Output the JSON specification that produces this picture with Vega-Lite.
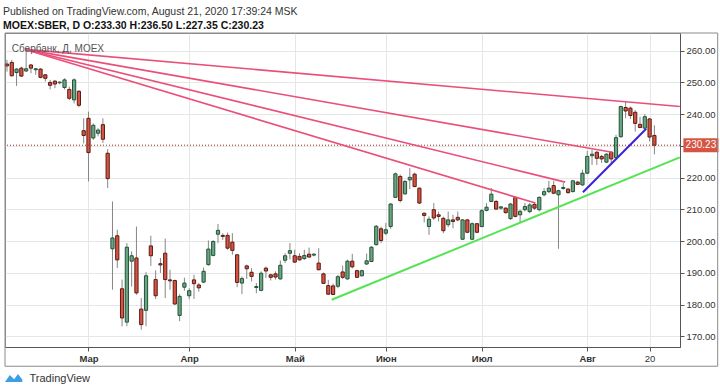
{
"$schema": "https://vega.github.io/schema/vega-lite/v6.json",
"width": 675, "height": 314,
"autosize": "none",
"padding": {"left": 5, "top": 33, "right": 40, "bottom": 41},
"background": "white",
"title": {"text": "Published on TradingView.com, August 21, 2020 17:39:24 MSK", "subtitle": "MOEX:SBER, D  O:233.30 H:236.50 L:227.35 C:230.23", "anchor": "start", "frame": "group", "offset": 1, "dx": -2, "font": "Liberation Sans", "fontSize": 10.5, "fontWeight": "normal", "color": "#333", "subtitleFont": "Liberation Sans", "subtitleFontSize": 10.5, "subtitleFontWeight": "bold", "subtitleColor": "#111", "subtitlePadding": 4},
"resolve": {"axis": {"x": "independent", "y": "independent"}},
"datasets": {
"candles": [
{"i":-17,"o":255.8,"h":257.1,"l":253.4,"c":255.2},
{"i":-16,"o":256.3,"h":257.1,"l":251.8,"c":252.1},
{"i":-15,"o":253.1,"h":254.5,"l":248.9,"c":254.2},
{"i":-14,"o":254.5,"h":255.0,"l":251.7,"c":252.0},
{"i":-13,"o":253.6,"h":260.2,"l":253.3,"c":254.3},
{"i":-12,"o":255.5,"h":255.8,"l":252.9,"c":254.5},
{"i":-11,"o":254.0,"h":254.5,"l":252.4,"c":254.3},
{"i":-10,"o":254.2,"h":254.5,"l":251.3,"c":251.6},
{"i":-9,"o":252.4,"h":252.6,"l":250.3,"c":251.3},
{"i":-8,"o":250.0,"h":250.8,"l":247.8,"c":249.1},
{"i":-7,"o":250.4,"h":250.8,"l":248.2,"c":249.5},
{"i":-6,"o":249.9,"h":250.3,"l":249.4,"c":250.1},
{"i":-5,"o":248.4,"h":251.3,"l":247.8,"c":250.8},
{"i":-4,"o":247.8,"h":248.7,"l":244.5,"c":245.0},
{"i":-3,"o":244.5,"h":251.3,"l":243.4,"c":250.8},
{"i":-2,"o":247.2,"h":247.6,"l":242.2,"c":242.8},
{"i":-1,"o":234.8,"h":238.7,"l":230.8,"c":233.3},
{"i":0,"o":238.7,"h":240.8,"l":218.8,"c":227.9},
{"i":1,"o":232.5,"h":237.1,"l":231.9,"c":236.5},
{"i":2,"o":234.0,"h":235.6,"l":233.0,"c":235.0},
{"i":3,"o":236.7,"h":238.7,"l":230.9,"c":232.1},
{"i":4,"o":227.7,"h":229.0,"l":216.7,"c":219.7},
{"i":5,"o":197.6,"h":212.5,"l":184.7,"c":201.0},
{"i":6,"o":201.7,"h":203.6,"l":191.5,"c":194.1},
{"i":7,"o":185.0,"h":187.9,"l":173.2,"c":175.8},
{"i":8,"o":174.5,"h":199.4,"l":173.2,"c":198.1},
{"i":9,"o":193.7,"h":196.8,"l":185.7,"c":195.4},
{"i":10,"o":194.7,"h":204.6,"l":183.1,"c":183.7},
{"i":11,"o":178.6,"h":182.1,"l":172.1,"c":173.7},
{"i":12,"o":178.2,"h":190.2,"l":173.2,"c":189.1},
{"i":13,"o":198.5,"h":201.7,"l":192.2,"c":195.4},
{"i":14,"o":187.9,"h":190.8,"l":181.8,"c":182.8},
{"i":15,"o":192.9,"h":194.7,"l":190.0,"c":192.5},
{"i":16,"o":196.2,"h":200.8,"l":182.1,"c":187.9},
{"i":17,"o":187.8,"h":191.0,"l":184.7,"c":187.5},
{"i":18,"o":187.6,"h":187.9,"l":180.0,"c":180.2},
{"i":19,"o":176.6,"h":183.3,"l":174.8,"c":182.6},
{"i":20,"o":185.5,"h":188.5,"l":184.4,"c":186.8},
{"i":21,"o":182.8,"h":185.2,"l":181.7,"c":184.4},
{"i":22,"o":187.8,"h":189.4,"l":181.8,"c":186.6},
{"i":23,"o":186.2,"h":186.8,"l":184.1,"c":185.3},
{"i":24,"o":187.1,"h":191.7,"l":186.8,"c":190.5},
{"i":25,"o":192.6,"h":200.2,"l":192.3,"c":197.5},
{"i":26,"o":195.5,"h":200.3,"l":195.2,"c":199.9},
{"i":27,"o":202.2,"h":205.4,"l":199.4,"c":203.4},
{"i":28,"o":201.8,"h":202.5,"l":200.4,"c":201.5},
{"i":29,"o":201.8,"h":202.7,"l":197.3,"c":197.8},
{"i":30,"o":199.7,"h":202.5,"l":195.7,"c":197.1},
{"i":31,"o":195.7,"h":195.8,"l":185.5,"c":187.0},
{"i":32,"o":186.8,"h":188.9,"l":183.3,"c":188.2},
{"i":33,"o":192.2,"h":192.6,"l":188.1,"c":191.3},
{"i":34,"o":190.2,"h":191.5,"l":187.3,"c":188.9},
{"i":35,"o":185.4,"h":186.8,"l":183.6,"c":185.7},
{"i":36,"o":184.5,"h":190.5,"l":184.2,"c":189.9},
{"i":37,"o":191.5,"h":192.0,"l":188.4,"c":190.6},
{"i":38,"o":189.4,"h":189.7,"l":187.6,"c":188.6},
{"i":39,"o":189.7,"h":190.5,"l":187.9,"c":188.7},
{"i":40,"o":188.1,"h":193.9,"l":187.9,"c":192.4},
{"i":41,"o":194.0,"h":196.2,"l":193.1,"c":195.4},
{"i":42,"o":196.2,"h":199.4,"l":194.3,"c":197.0},
{"i":43,"o":195.4,"h":197.3,"l":193.1,"c":193.4},
{"i":44,"o":195.2,"h":196.2,"l":193.9,"c":194.1},
{"i":45,"o":194.5,"h":197.3,"l":194.1,"c":195.5},
{"i":46,"o":195.9,"h":198.0,"l":194.8,"c":195.0},
{"i":47,"o":195.6,"h":196.2,"l":195.2,"c":195.9},
{"i":48,"o":193.1,"h":197.8,"l":190.8,"c":191.0},
{"i":49,"o":189.7,"h":190.1,"l":186.6,"c":186.7},
{"i":50,"o":186.0,"h":187.8,"l":183.1,"c":183.3},
{"i":51,"o":185.9,"h":186.6,"l":183.0,"c":183.2},
{"i":52,"o":185.8,"h":189.4,"l":185.2,"c":188.8},
{"i":53,"o":190.3,"h":192.3,"l":188.1,"c":188.6},
{"i":54,"o":188.1,"h":194.2,"l":187.9,"c":193.7},
{"i":55,"o":193.7,"h":196.0,"l":191.4,"c":191.9},
{"i":56,"o":190.7,"h":191.0,"l":188.4,"c":188.6},
{"i":57,"o":189.1,"h":191.0,"l":188.8,"c":190.7},
{"i":58,"o":192.8,"h":196.1,"l":192.5,"c":193.8},
{"i":59,"o":193.6,"h":198.4,"l":193.4,"c":198.1},
{"i":60,"o":198.9,"h":205.1,"l":198.6,"c":204.7},
{"i":61,"o":203.9,"h":204.6,"l":199.4,"c":200.2},
{"i":62,"o":202.5,"h":205.7,"l":201.9,"c":203.6},
{"i":63,"o":204.6,"h":212.0,"l":203.8,"c":211.7},
{"i":64,"o":213.8,"h":221.6,"l":213.6,"c":221.2},
{"i":65,"o":220.4,"h":221.0,"l":212.2,"c":212.8},
{"i":66,"o":214.9,"h":219.3,"l":214.6,"c":218.8},
{"i":67,"o":219.3,"h":223.0,"l":216.4,"c":220.1},
{"i":68,"o":221.1,"h":221.6,"l":217.0,"c":217.2},
{"i":69,"o":216.7,"h":216.9,"l":211.7,"c":212.0},
{"i":70,"o":208.8,"h":209.0,"l":205.9,"c":208.1},
{"i":71,"o":204.6,"h":207.8,"l":202.0,"c":206.9},
{"i":72,"o":209.9,"h":212.0,"l":206.7,"c":207.3},
{"i":73,"o":208.3,"h":209.3,"l":206.2,"c":207.8},
{"i":74,"o":207.2,"h":207.7,"l":202.5,"c":203.3},
{"i":75,"o":205.2,"h":209.3,"l":204.4,"c":206.7},
{"i":76,"o":206.7,"h":208.3,"l":204.1,"c":206.2},
{"i":77,"o":207.5,"h":209.3,"l":206.2,"c":206.7},
{"i":78,"o":200.6,"h":206.9,"l":200.4,"c":206.7},
{"i":79,"o":206.7,"h":206.9,"l":202.5,"c":202.8},
{"i":80,"o":200.6,"h":205.9,"l":200.4,"c":205.5},
{"i":81,"o":205.5,"h":205.7,"l":202.5,"c":202.8},
{"i":82,"o":204.6,"h":210.1,"l":204.4,"c":209.6},
{"i":83,"o":209.7,"h":212.0,"l":209.4,"c":210.7},
{"i":84,"o":212.5,"h":216.7,"l":212.3,"c":214.8},
{"i":85,"o":212.5,"h":213.0,"l":209.9,"c":210.1},
{"i":86,"o":210.4,"h":211.0,"l":209.9,"c":210.8},
{"i":87,"o":210.4,"h":210.7,"l":208.6,"c":209.0},
{"i":88,"o":207.1,"h":212.0,"l":206.7,"c":211.7},
{"i":89,"o":213.8,"h":214.1,"l":207.5,"c":207.8},
{"i":90,"o":208.3,"h":209.9,"l":205.7,"c":209.4},
{"i":91,"o":209.9,"h":212.0,"l":209.4,"c":210.9},
{"i":92,"o":209.3,"h":212.0,"l":208.8,"c":211.4},
{"i":93,"o":211.6,"h":212.3,"l":209.9,"c":210.4},
{"i":94,"o":209.9,"h":214.1,"l":209.4,"c":213.8},
{"i":95,"o":214.6,"h":216.7,"l":214.1,"c":215.6},
{"i":96,"o":215.6,"h":219.0,"l":215.1,"c":216.7},
{"i":97,"o":217.5,"h":219.0,"l":214.8,"c":215.1},
{"i":98,"o":214.6,"h":216.2,"l":197.6,"c":215.9},
{"i":99,"o":216.6,"h":218.3,"l":216.2,"c":216.9},
{"i":100,"o":216.4,"h":216.7,"l":214.9,"c":215.3},
{"i":101,"o":215.6,"h":219.3,"l":215.4,"c":219.0},
{"i":102,"o":218.6,"h":219.0,"l":217.7,"c":217.9},
{"i":103,"o":217.7,"h":222.5,"l":217.5,"c":221.4},
{"i":104,"o":221.4,"h":228.4,"l":221.1,"c":226.7},
{"i":105,"o":226.9,"h":228.8,"l":224.0,"c":227.4},
{"i":106,"o":228.0,"h":228.4,"l":224.0,"c":226.1},
{"i":107,"o":226.7,"h":227.2,"l":224.6,"c":225.9},
{"i":108,"o":224.9,"h":227.7,"l":224.6,"c":227.4},
{"i":109,"o":228.0,"h":228.4,"l":224.6,"c":225.9},
{"i":110,"o":226.3,"h":233.5,"l":226.1,"c":232.6},
{"i":111,"o":232.9,"h":242.7,"l":232.6,"c":242.4},
{"i":112,"o":242.1,"h":244.2,"l":238.7,"c":241.0},
{"i":113,"o":241.9,"h":242.4,"l":238.5,"c":239.6},
{"i":114,"o":240.6,"h":241.3,"l":234.5,"c":237.1},
{"i":115,"o":236.8,"h":239.2,"l":235.6,"c":235.8},
{"i":116,"o":235.6,"h":240.0,"l":235.1,"c":239.2},
{"i":117,"o":238.5,"h":238.7,"l":231.4,"c":232.8},
{"i":118,"o":233.3,"h":236.5,"l":227.35,"c":230.23}
],
"fan": [
{"x1":-13.2,"y1":260.4,"x2":123.3,"y2":242.4},
{"x1":-13.2,"y1":260.4,"x2":109.2,"y2":228.0},
{"x1":-13.2,"y1":260.4,"x2":99.4,"y2":218.6},
{"x1":-13.2,"y1":260.4,"x2":93.2,"y2":212.0}
],
"trend": [
{"kind":"support","x1":50.7,"y1":181.55,"x2":123.3,"y2":226.4},
{"kind":"channel","x1":103.1,"y1":215.4,"x2":116.3,"y2":235.4}
]
},
"layer": [
{"data": {"name":"candles"},
 "mark": {"type":"rule","color":"#858585","strokeWidth":1},
 "encoding": {
  "x": {"field":"i","type":"quantitative","scale":{"domain":[-17.41,123.34],"nice":false,"zero":false,"padding":0},
        "axis":{"orient":"bottom","values":[0,21,43,62,82,104,117],
          "labelExpr":"datum.value==0?'Мар':datum.value==21?'Апр':datum.value==43?'Май':datum.value==62?'Июн':datum.value==82?'Июл':datum.value==104?'Авг':'20'",
          "labelFontWeight":{"condition":{"test":"datum.value==117","value":"normal"},"value":"bold"},
          "grid":true,"tickSize":4,"labelPadding":2,"labelFontSize":9.5,"labelOverlap":false,
          "title":"TradingView","titleX":24,"titleY":31,"titleAlign":"left","titleAnchor":"start","titleBaseline":"middle","titleFont":"Liberation Sans","titleFontSize":11,"titleFontWeight":"normal","titleColor":"#333"}},
  "y": {"field":"l","type":"quantitative","scale":{"domain":[166.66,265.57],"nice":false,"zero":false},
        "axis":{"orient":"right","values":[170,180,190,200,210,220,230,240,250,260],"labelExpr":"datum.value==230?'':format(datum.value,'.2f')","labelOverlap":false,"labelBound":false,"grid":true,"tickSize":4,"labelPadding":2,"title":null,"labelFontSize":9.5}},
  "y2": {"field":"h"}}},
{"data": {"name":"candles"},
 "mark": {"type":"bar","width":3.2,"strokeWidth":1},
 "encoding": {
  "x": {"field":"i","type":"quantitative","axis":null},
  "y": {"field":"o","type":"quantitative","axis":null},
  "y2": {"field":"c"},
  "fill": {"condition":{"test":"datum.c >= datum.o","value":"#6ba583"},"value":"#d75442"},
  "stroke": {"condition":{"test":"datum.c >= datum.o","value":"#225437"},"value":"#5b1a13"}}},
{"data": {"values":[{"v":230.23}]},
 "mark": {"type":"rule","color":"#a3291d","strokeDash":[1,2],"strokeWidth":1},
 "encoding": {"y":{"field":"v","type":"quantitative","axis":null}}},
{"data": {"name":"fan"},
 "mark": {"type":"rule","color":"#ea4f7a","strokeWidth":1.6},
 "encoding": {"x":{"field":"x1","type":"quantitative","axis":null},"y":{"field":"y1","type":"quantitative","axis":null},"x2":{"field":"x2"},"y2":{"field":"y2"}}},
{"data": {"name":"trend"},
 "mark": {"type":"rule","strokeWidth":2},
 "encoding": {"x":{"field":"x1","type":"quantitative","axis":null},"y":{"field":"y1","type":"quantitative","axis":null},"x2":{"field":"x2"},"y2":{"field":"y2"},
  "color":{"field":"kind","type":"nominal","scale":{"domain":["support","channel"],"range":["#55e355","#3a22d6"]},"legend":null}}},
{"data": {"values":[{"i":-16.0,"v":260.6,"t":"Сбербанк, Д, MOEX"}]},
 "mark": {"type":"text","align":"left","baseline":"middle","fontSize":10,"color":"#555","font":"Liberation Sans"},
 "encoding": {"x":{"field":"i","type":"quantitative","axis":null},"y":{"field":"v","type":"quantitative","axis":null},"text":{"field":"t"}}},
{"data": {"values":[{"i":127.7,"v":230.23,"t":"230.23"}]},
 "mark": {"type":"point","shape":"M-2.5,-1H2.5V1H-2.5Z","size":196,"filled":true,"fill":"#d75442","opacity":1,"strokeWidth":0},
 "encoding": {"x":{"field":"i","type":"quantitative","axis":null},"y":{"field":"v","type":"quantitative","axis":null}}},
{"data": {"values":[{"i":127.7,"v":230.23,"t":"230.23"}]},
 "mark": {"type":"text","align":"center","baseline":"middle","fontSize":10,"color":"white","font":"Liberation Sans"},
 "encoding": {"x":{"field":"i","type":"quantitative","axis":null},"y":{"field":"v","type":"quantitative","axis":null},"text":{"field":"t"}}},
{"data": {"values":[{"i":-15.6,"v":156.9}]},
 "mark": {"type":"point","shape":"M-1,0.45L-0.45,-0.35L0.05,0.15L0.5,-0.45L1,0.2L1,0.45Z","size":300,"filled":true,"fill":"#3c9ee5","opacity":1,"strokeWidth":0},
 "encoding": {"x":{"field":"i","type":"quantitative","axis":null},"y":{"field":"v","type":"quantitative","axis":null}}},
{"data": {"values": [{"x1":-17.41,"x2":131.2,"y1":160.6,"y2":265.57}]},
 "mark": {"type":"rect","filled":false,"fillOpacity":0,"stroke":"#8a8a8a","strokeWidth":1},
 "encoding": {"x":{"field":"x1","type":"quantitative","axis":null},"x2":{"field":"x2"},"y":{"field":"y1","type":"quantitative","axis":null},"y2":{"field":"y2"}}}
],
"config": {
 "font": "Liberation Sans",
 "view": {"stroke": "#8a8a8a"},
 "axis": {"domainColor":"#555","tickColor":"#555","gridColor":"#e6e6e6","labelColor":"#333","labelFont":"Liberation Sans"}
}
}
